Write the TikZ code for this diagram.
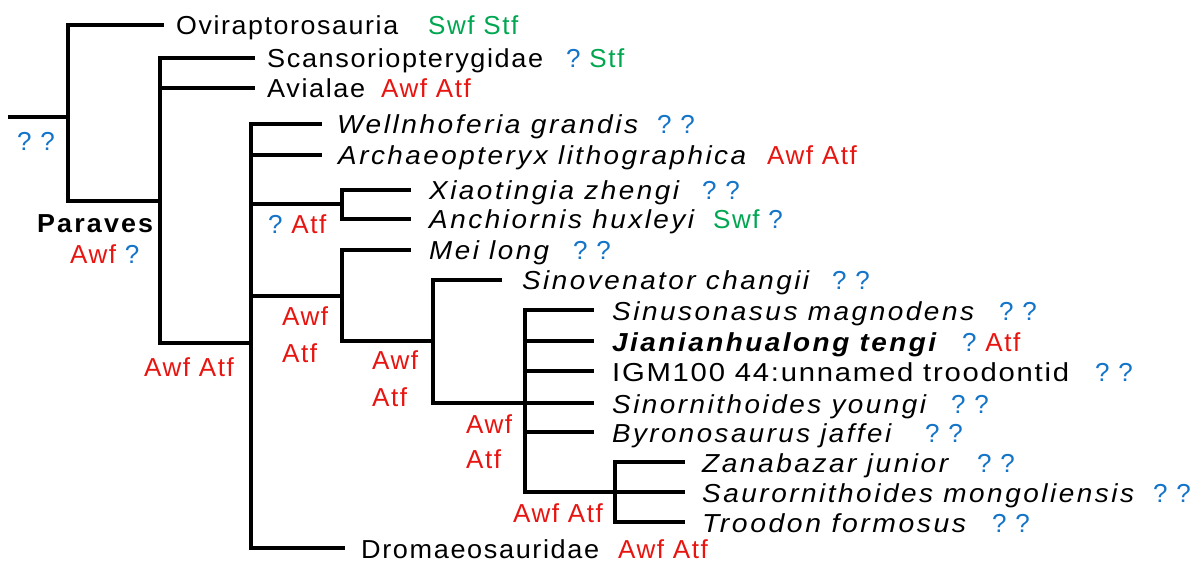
\documentclass[tikz,border=0pt]{standalone}
\usepackage{fontspec}
\usepackage{graphicx}
\setmainfont{Liberation Sans}[
  LetterSpace=6,
  BoldFeatures={LetterSpace=8},
  ItalicFeatures={LetterSpace=9},
  BoldItalicFeatures={LetterSpace=9}]
\definecolor{swfgreen}{RGB}{0,166,80}
\definecolor{awfred}{RGB}{232,20,16}
\definecolor{qblue}{RGB}{20,116,200}
\newcommand{\treefont}{\fontsize{26}{30}\selectfont}
\newcommand{\A}[1]{\textcolor{awfred}{#1}}
\newcommand{\G}[1]{\textcolor{swfgreen}{#1}}
\newcommand{\Q}{\textcolor{qblue}{?}}
% set a name to a given printed width (horizontal only)
\newcommand{\fw}[2]{\resizebox{#1pt}{\height}{#2}}
\begin{document}
\begin{tikzpicture}[x=1pt,y=-1pt,
  br/.style={line width=3.2pt, line cap=rect},
  tx/.style={anchor=base west, inner sep=0pt, font=\treefont},
  sp/.style={tx, font=\treefont\itshape}]
\useasboundingbox (0,0) rectangle (1203,564);

% ---- joints of the tree ----
\coordinate (root0) at (10,117);
\coordinate (n1) at (68,117);
\coordinate (n1t) at (68,25);
\coordinate (n1b) at (68,201);
\coordinate (n2) at (160,201);
\coordinate (n2t) at (160,58);
\coordinate (n2a) at (160,88);
\coordinate (n2b) at (160,343);
\coordinate (n3) at (251,343);
\coordinate (n3t) at (251,124);
\coordinate (n3a) at (251,155);
\coordinate (n3c) at (251,204);
\coordinate (n3d) at (251,296);
\coordinate (n3b) at (251,548);
\coordinate (n4) at (342,204);
\coordinate (n4t) at (342,190);
\coordinate (n4b) at (342,219);
\coordinate (n5) at (342,296);
\coordinate (n5t) at (342,250);
\coordinate (n5b) at (342,341);
\coordinate (n6) at (433,341);
\coordinate (n6t) at (433,280);
\coordinate (n6b) at (433,403);
\coordinate (n7) at (525,403);
\coordinate (n7t) at (525,310);
\coordinate (n7a) at (525,341);
\coordinate (n7c) at (525,371);
\coordinate (n7d) at (525,432);
\coordinate (n7b) at (525,492);
\coordinate (n8) at (615,492);
\coordinate (n8t) at (615,462);
\coordinate (n8b) at (615,522);

% ---- tip ends ----
\coordinate (e-ovi) at (162,25);
\coordinate (e-sca) at (253,58);
\coordinate (e-avi) at (253,88);
\coordinate (e-wel) at (320,124);
\coordinate (e-arc) at (320,155);
\coordinate (e-xia) at (409,190);
\coordinate (e-anc) at (409,219);
\coordinate (e-mei) at (409,250);
\coordinate (e-sinv) at (500,280);
\coordinate (e-sinu) at (592,310);
\coordinate (e-jia) at (592,341);
\coordinate (e-igm) at (592,371);
\coordinate (e-sinr) at (592,403);
\coordinate (e-byr) at (592,432);
\coordinate (e-zan) at (683,462);
\coordinate (e-sau) at (683,492);
\coordinate (e-tro) at (683,522);
\coordinate (e-dro) at (343,548);

% ---- branches ----
\draw[br] (root0) -- (n1);
\draw[br] (n1t) -- (n1b);
\draw[br] (n1t) -- (e-ovi);
\draw[br] (n1b) -- (n2);
\draw[br] (n2t) -- (n2b);
\draw[br] (n2t) -- (e-sca);
\draw[br] (n2a) -- (e-avi);
\draw[br] (n2b) -- (n3);
\draw[br] (n3t) -- (n3b);
\draw[br] (n3t) -- (e-wel);
\draw[br] (n3a) -- (e-arc);
\draw[br] (n3c) -- (n4);
\draw[br] (n4t) -- (n4b);
\draw[br] (n4t) -- (e-xia);
\draw[br] (n4b) -- (e-anc);
\draw[br] (n3d) -- (n5);
\draw[br] (n5t) -- (n5b);
\draw[br] (n5t) -- (e-mei);
\draw[br] (n5b) -- (n6);
\draw[br] (n6t) -- (n6b);
\draw[br] (n6t) -- (e-sinv);
\draw[br] (n6b) -- (n7);
\draw[br] (n7t) -- (n7b);
\draw[br] (n7t) -- (e-sinu);
\draw[br] (n7a) -- (e-jia);
\draw[br] (n7c) -- (e-igm);
\draw[br] (n7) -- (e-sinr);
\draw[br] (n7d) -- (e-byr);
\draw[br] (n7b) -- (n8);
\draw[br] (n8t) -- (n8b);
\draw[br] (n8t) -- (e-zan);
\draw[br] (n8) -- (e-sau);
\draw[br] (n8b) -- (e-tro);
\draw[br] (n3b) -- (e-dro);

% ---- taxon names ----
\node[tx] (t-ovi) at (176,35) {\fw{222}{Oviraptorosauria}};
\node[tx] (t-sca) at (267,68) {\fw{276}{Scansoriopterygidae}};
\node[tx] (t-avi) at (267,98) {\fw{98}{Avialae}};
\node[sp] (t-wel) at (337,134) {\fw{301}{Wellnhoferia grandis}};
\node[sp] (t-arc) at (338,165) {\fw{408}{Archaeopteryx lithographica}};
\node[sp] (t-xia) at (429,200) {\fw{250}{Xiaotingia zhengi}};
\node[sp] (t-anc) at (429,229) {\fw{265}{Anchiornis huxleyi}};
\node[sp] (t-mei) at (429,260) {\fw{120}{Mei long}};
\node[sp] (t-sinv) at (522,290) {\fw{287}{Sinovenator changii}};
\node[sp] (t-sinu) at (612,320) {\fw{362}{Sinusonasus magnodens}};
\node[sp, font=\treefont\bfseries\itshape] (t-jia) at (612,351) {\fw{324}{Jianianhualong tengi}};
\node[tx] (t-igm) at (612,381) {\fw{457}{IGM100 44:unnamed troodontid}};
\node[sp] (t-sinr) at (612,413) {\fw{314}{Sinornithoides youngi}};
\node[sp] (t-byr) at (612,442) {\fw{279}{Byronosaurus jaffei}};
\node[sp] (t-zan) at (702,472) {\fw{246}{Zanabazar junior}};
\node[sp] (t-sau) at (702,502) {\fw{432}{Saurornithoides mongoliensis}};
\node[sp] (t-tro) at (702,532) {\fw{264}{Troodon formosus}};
\node[tx] (t-dro) at (361,558) {\fw{238}{Dromaeosauridae}};

% ---- character states at the tips ----
\node[tx] (s-ovi) at (428,35) {\G{Swf Stf}};
\node[tx] (s-sca) at (566,68) {\Q\ \G{Stf}};
\node[tx] (s-avi) at (381,98) {\A{Awf Atf}};
\node[tx] (s-wel) at (657,134) {\Q\ \Q};
\node[tx] (s-arc) at (767,165) {\A{Awf Atf}};
\node[tx] (s-xia) at (702,200) {\Q\ \Q};
\node[tx] (s-anc) at (713,229) {\G{Swf}\ \Q};
\node[tx] (s-mei) at (573,260) {\Q\ \Q};
\node[tx] (s-sinv) at (832,290) {\Q\ \Q};
\node[tx] (s-sinu) at (999,320) {\Q\ \Q};
\node[tx] (s-jia) at (962,351) {\Q\ \A{Atf}};
\node[tx] (s-igm) at (1095,381) {\Q\ \Q};
\node[tx] (s-sinr) at (951,413) {\Q\ \Q};
\node[tx] (s-byr) at (925,442) {\Q\ \Q};
\node[tx] (s-zan) at (977,472) {\Q\ \Q};
\node[tx] (s-sau) at (1153,502) {\Q\ \Q};
\node[tx] (s-tro) at (992,532) {\Q\ \Q};
\node[tx] (s-dro) at (618,558) {\A{Awf Atf}};

% ---- character states at internal nodes ----
\node[tx] (s-root) at (17,151) {\Q\ \Q};
\node[tx, font=\treefont\bfseries] (l-par) at (37,233) {\fw{116}{Paraves}};
\node[tx] (s-par) at (70,264) {\A{Awf}\ \Q};
\node[tx] (s-n2) at (144,376) {\A{Awf Atf}};
\node[tx] (s-n4) at (268,234) {\Q\ \A{Atf}};
\node[tx] (s-n5a) at (282,326) {\A{Awf}};
\node[tx] (s-n5b) at (282,362) {\A{Atf}};
\node[tx] (s-n6a) at (372,369) {\A{Awf}};
\node[tx] (s-n6b) at (372,406) {\A{Atf}};
\node[tx] (s-n7a) at (466,433) {\A{Awf}};
\node[tx] (s-n7b) at (466,468) {\A{Atf}};
\node[tx] (s-n8) at (513,522) {\A{Awf Atf}};
\end{tikzpicture}
\end{document}
